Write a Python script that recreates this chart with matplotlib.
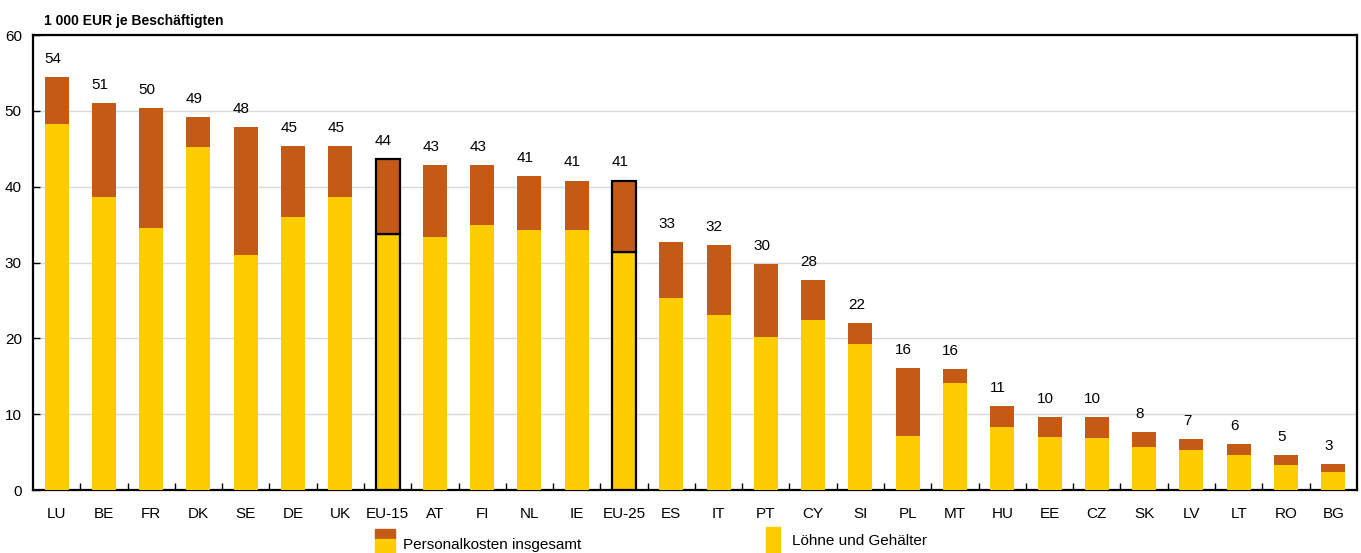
import matplotlib.pyplot as plt
from matplotlib.patches import Rectangle

plt.rcParams['font.family'] = ['Liberation Sans', 'DejaVu Sans']

# Personnel costs per employee, in 1 000 EUR
countries = ['LU', 'BE', 'FR', 'DK', 'SE', 'DE', 'UK', 'EU-15', 'AT', 'FI', 'NL', 'IE',
             'EU-25', 'ES', 'IT', 'PT', 'CY', 'SI', 'PL', 'MT', 'HU', 'EE', 'CZ', 'SK',
             'LV', 'LT', 'RO', 'BG']
total = [54.4, 51.0, 50.4, 49.2, 47.9, 45.4, 45.3, 43.6, 42.9, 42.9, 41.4, 40.8,
         40.8, 32.7, 32.3, 29.8, 27.7, 22.0, 16.1, 16.0, 11.1, 9.6, 9.6, 7.6,
         6.7, 6.1, 4.6, 3.4]
wages = [48.2, 38.6, 34.6, 45.2, 31.0, 36.0, 38.6, 33.8, 33.4, 35.0, 34.3, 34.3,
         31.4, 25.3, 23.1, 20.2, 22.4, 19.3, 7.1, 14.1, 8.3, 7.0, 6.9, 5.7,
         5.3, 4.6, 3.3, 2.4]
aggregates = ['EU-15', 'EU-25']

orange = '#C55A17'
yellow = '#FFCC00'

fig = plt.figure(figsize=(13.61, 5.53), dpi=100)
ax = fig.add_axes([0.0242, 0.1139, 0.9728, 0.8228])

x = list(range(len(countries)))
other = [t - w for t, w in zip(total, wages)]
for i, c in enumerate(countries):
    edge = 'black' if c in aggregates else 'none'
    lw = 1.6 if c in aggregates else 0
    ax.bar(i, wages[i], width=0.51, color=yellow, edgecolor=edge, linewidth=lw, zorder=3)
    ax.bar(i, other[i], bottom=wages[i], width=0.51, color=orange,
           edgecolor=edge, linewidth=lw, zorder=3)
    ax.annotate(f'{total[i]:.0f}', (i, total[i]), xytext=(-3, 8),
                textcoords='offset points', ha='center', va='bottom', fontsize=11)

ax.set_xlim(-0.5, len(countries) - 0.5)
ax.set_ylim(0, 60)
ax.set_yticks(range(0, 61, 10))
ax.grid(axis='y', color='#D9D9D9', linewidth=1, zorder=0)
ax.set_xticks(x)
ax.set_xticklabels(countries)
ax.set_xticks([i + 0.5 for i in x[:-1]], minor=True)
ax.tick_params(axis='x', which='major', length=0, pad=12, labelsize=11)
ax.tick_params(axis='x', which='minor', direction='in', length=5, width=1)
ax.tick_params(axis='y', direction='in', length=5, width=1, labelsize=11, pad=8)
for s in ax.spines.values():
    s.set_linewidth(1.6)
    s.set_color('black')

fig.text(0.0323, 0.975, '1 000 EUR je Beschäftigten', fontsize=10, fontweight='bold',
         ha='left', va='top')

# Legend: two-tone key for total costs, plain key for wages
fig.add_artist(Rectangle((375 / 1361, 14 / 553), 20 / 1361, 10 / 553,
                         transform=fig.transFigure, color=orange))
fig.add_artist(Rectangle((375 / 1361, 0), 20 / 1361, 14 / 553,
                         transform=fig.transFigure, color=yellow))
fig.text(403 / 1361, 8 / 553, 'Personalkosten insgesamt', fontsize=11, va='center')
fig.add_artist(Rectangle((766 / 1361, 0), 14 / 1361, 26 / 553,
                         transform=fig.transFigure, color=yellow))
fig.text(792 / 1361, 12 / 553, 'Löhne und Gehälter', fontsize=11, va='center')

fig.savefig('out.png', dpi=100)
